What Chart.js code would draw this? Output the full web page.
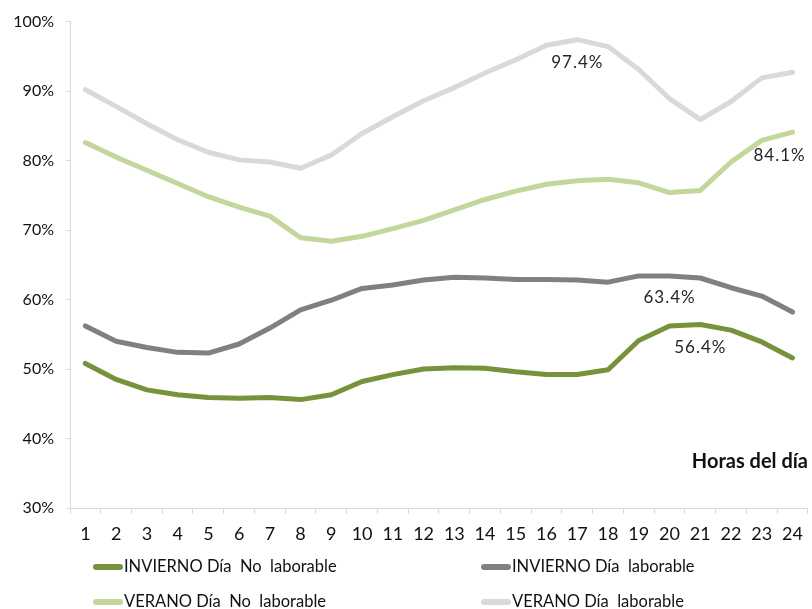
<!DOCTYPE html>
<html>
<head>
<meta charset="utf-8">
<style>
  html, body { margin: 0; padding: 0; background: #fff; }
  #wrap { width: 812px; height: 609px; position: relative; }
</style>
</head>
<body>
<div id="wrap"><canvas id="chartHoras" width="812" height="609"></canvas></div>
<script src="https://cdn.jsdelivr.net/npm/chart.js@4.4.0/dist/chart.umd.min.js"></script>
<script>
   // Horas del día 1..24
   const horas = ['1','2','3','4','5','6','7','8','9','10','11','12','13','14','15','16','17','18','19','20','21','22','23','24'];

   // Porcentajes por hora (%)
   const inviernoNoLab = [50.8, 48.5, 47.0, 46.3, 45.9, 45.8, 45.9, 45.6, 46.3, 48.2, 49.2, 50.0,
                          50.2, 50.1, 49.6, 49.2, 49.2, 49.9, 54.1, 56.2, 56.4, 55.6, 53.9, 51.6];
   const inviernoLab   = [56.2, 54.0, 53.1, 52.4, 52.3, 53.6, 55.9, 58.5, 59.9, 61.6, 62.1, 62.8,
                          63.2, 63.1, 62.9, 62.9, 62.8, 62.5, 63.4, 63.4, 63.1, 61.7, 60.5, 58.2];
   const veranoNoLab   = [82.6, 80.5, 78.6, 76.7, 74.8, 73.3, 72.0, 68.9, 68.4, 69.1, 70.2, 71.4,
                          72.9, 74.4, 75.6, 76.6, 77.1, 77.3, 76.8, 75.4, 75.7, 79.8, 82.9, 84.1];
   const veranoLab     = [90.2, 87.8, 85.3, 83.0, 81.2, 80.1, 79.8, 78.9, 80.8, 83.9, 86.3, 88.6,
                          90.5, 92.6, 94.5, 96.6, 97.4, 96.4, 93.1, 88.9, 85.9, 88.5, 91.9, 92.7];

   const nombres = ['INVIERNO Día  No  laborable', 'INVIERNO Día  laborable',
                    'VERANO Día  No  laborable', 'VERANO Día  laborable'];
   const colores = ['#76933c', '#808080', '#c3d69b', '#d9d9d9'];

   // puntos con etiqueta: [serie, índice, dx, dy]
   const etiquetas = [[3, 16, 0, 23], [2, 23, -13, 23], [1, 19, 0, 22], [0, 20, 0, 23]];

   const FONT = 'Lato, "DejaVu Sans", sans-serif';

   function serie(i, data) {
       return {
           label: nombres[i],
           data: data,
           borderColor: colores[i],
           backgroundColor: colores[i],
           borderWidth: 5,
           borderCapStyle: 'round',
           borderJoinStyle: 'round',
           pointRadius: 0,
           tension: 0
       };
   }

   // valores, título del eje y leyenda dibujados sobre el canvas
   const textos = {
       id: 'textos',
       afterDatasetsDraw(chart) {
           const ctx = chart.ctx;
           ctx.save();
           ctx.fillStyle = '#262626';
           ctx.font = '17px ' + FONT;
           ctx.letterSpacing = '1px';
           ctx.textAlign = 'center';
           ctx.textBaseline = 'middle';
           etiquetas.forEach(([s, i, dx, dy]) => {
               const p = chart.getDatasetMeta(s).data[i];
               const v = chart.data.datasets[s].data[i];
               ctx.fillText(v.toFixed(1) + '%', p.x + dx, p.y + dy);
           });
           ctx.letterSpacing = '0px';

           ctx.fillStyle = '#111';
           ctx.font = 'bold 20px ' + FONT;
           ctx.textAlign = 'right';
           ctx.fillText('Horas del día', 808, 462);

           // leyenda en dos columnas
           const pos = [[93, 567], [481, 567], [93, 602], [481, 602]];
           ctx.font = '16.5px ' + FONT;
           ctx.textAlign = 'left';
           chart.data.datasets.forEach((ds, k) => {
               const [x, y] = pos[k];
               ctx.strokeStyle = ds.borderColor;
               ctx.lineWidth = 6;
               ctx.lineCap = 'round';
               ctx.beginPath();
               ctx.moveTo(x + 3, y);
               ctx.lineTo(x + 27, y);
               ctx.stroke();
               ctx.fillStyle = '#111';
               ctx.fillText(ds.label, x + 31, y);
           });
           ctx.restore();
       }
   };

   new Chart(document.getElementById('chartHoras'), {
       type: 'line',
       data: {
           labels: horas,
           datasets: [
               serie(0, inviernoNoLab),
               serie(1, inviernoLab),
               serie(2, veranoNoLab),
               serie(3, veranoLab)
           ]
       },
       options: {
           responsive: false,
           animation: false,
           layout: { padding: { top: 21, right: 2, left: 0, bottom: 0 } },
           plugins: {
               legend: { display: false },
               tooltip: { enabled: false }
           },
           scales: {
               x: {
                   offset: true,
                   grid: { offset: true, drawOnChartArea: false, tickLength: 6, color: '#d9d9d9' },
                   border: { color: '#d9d9d9', width: 1 },
                   ticks: { color: '#111', font: { family: FONT, size: 18 }, padding: 9, maxRotation: 0, autoSkip: false },
                   afterFit(scale) { scale.height = 101; }
               },
               y: {
                   min: 30,
                   max: 100,
                   grid: { drawOnChartArea: false, tickLength: 4, color: '#d9d9d9' },
                   border: { color: '#d9d9d9', width: 1 },
                   ticks: {
                       stepSize: 10,
                       color: '#111',
                       font: { family: FONT, size: 16 },
                       padding: 12,
                       callback: v => v + '%'
                   },
                   afterFit(scale) { scale.width = 70; }
               }
           }
       },
       plugins: [textos]
   });
</script>
</body>
</html>
